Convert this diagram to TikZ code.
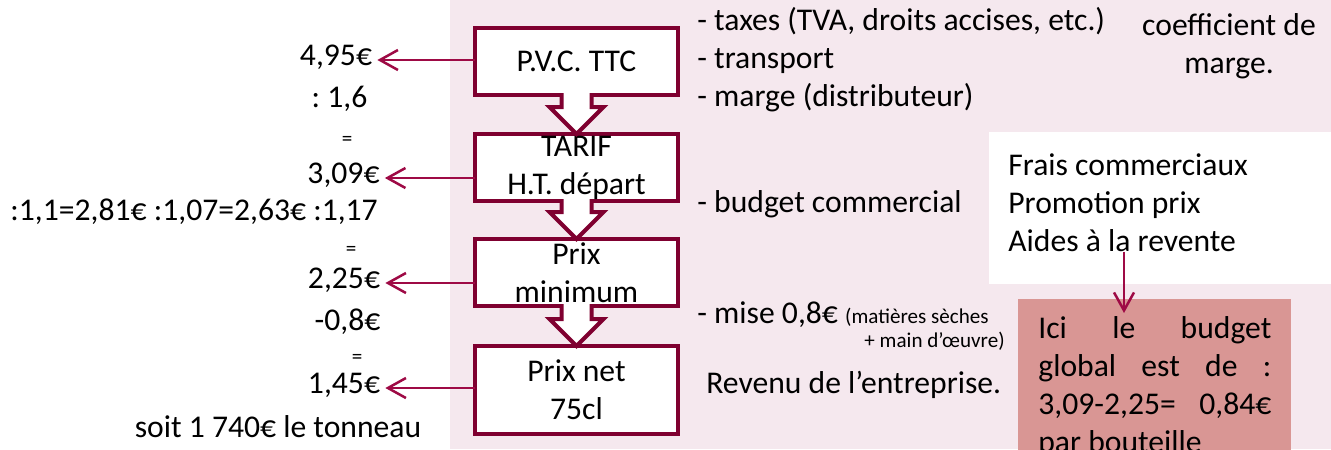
\documentclass[tikz,border=0pt]{standalone}
\usepackage{fontspec}
\setmainfont{Carlito}
\usetikzlibrary{arrows.meta,positioning}
\frenchspacing
\definecolor{bordeaux}{HTML}{7F0030}
\definecolor{fleche}{HTML}{9E0A45}
\definecolor{fondrose}{HTML}{F5E8EE}
\definecolor{rougeclair}{HTML}{D99694}
\tikzset{
block/.style = {draw=bordeaux, line width=0.8mm, fill=white, minimum height=13.4mm,
                minimum width=40.6mm, inner sep=0pt, outer sep=0pt, align=center},
hollow/.style = {draw=bordeaux, line width=0.8mm, fill=white, line join=miter},
val/.style = {inner sep=1mm, text height=0.64em, text depth=0pt},
txt/.style = {inner sep=0pt, align=left},
petit/.style = {font=\fontsize{12}{14}\selectfont},
link/.style = {->, draw=fleche, line width=0.5mm},
whitebox/.style = {fill=white, minimum width=68.4mm, minimum height=30.4mm, inner sep=0pt},
budgetbox/.style = {fill=rougeclair, text width=46.6mm, align=justify, inner xsep=4mm,
                inner ysep=3.4mm}
}

\begin{document}
\begin{tikzpicture}[x=0.2mm, y=-0.2mm, node distance=21.2mm,
    font=\fontsize{18}{21.6}\selectfont,
    >={Straight Barb[length=3.6mm,width=4mm]}]
    \useasboundingbox (0,0) rectangle (1331,449);
    \clip (0,0) rectangle (1331,449);

    % fonds
    \fill [fondrose] (450,0) rectangle (1331,449);
    \node [whitebox, anchor=north west] (blanc) at (989,132) {};

    % chaine des prix
    \node [block] (pvc) at (576.5,61.5) {P.V.C. TTC};
    \node [block, below of=pvc] (tarif) {TARIF\\H.T. départ};
    \node [block, below of=tarif, node distance=21mm] (prixmin) {Prix\\minimum};
    \node [block, below of=prixmin, node distance=23.5mm,
           minimum height=17.6mm] (prixnet) {Prix net\\75cl};

    \foreach \a/\b in {pvc/tarif, tarif/prixmin, prixmin/prixnet}
      \filldraw [hollow] ([xshift=-3mm, yshift=0.4mm]\a.south)
        -- ([xshift=-3mm, yshift=5.4mm]\b.north)
        -- ([xshift=-5.4mm, yshift=5.4mm]\b.north)
        -- (\b.north)
        -- ([xshift=5.4mm, yshift=5.4mm]\b.north)
        -- ([xshift=3mm, yshift=5.4mm]\b.north)
        -- ([xshift=3mm, yshift=0.4mm]\a.south);

    % calculs a gauche
    \node [val] (v495) at (336,60) {4,95€};
    \node [val] (div16) at (339.5,102) {: 1,6};
    \node [val, petit] (eg1) at (347,140) {=};
    \node [val] (v309) at (343.5,178) {3,09€};
    \node [val] (divs) at (194,215) {:1,1=2,81€ :1,07=2,63€ :1,17};
    \node [val, petit] (eg2) at (351,250) {=};
    \node [val] (v225) at (344,283) {2,25€};
    \node [val] (moins) at (347.5,325) {-0,8€};
    \node [val, petit] (eg3) at (357,358) {=};
    \node [val] (v145) at (344,388) {1,45€};
    \node [val] (tonneau) at (278,432) {soit 1 740€ le tonneau};

    \draw [link] (pvc.west |- v495) -- (v495);
    \draw [link] (tarif.west |- v309) -- (v309);
    \draw [link] (prixmin.west |- v225) -- (v225);
    \draw [link] (prixnet.west |- v145) -- (v145);

    % postes a droite
    \node [txt, anchor=west] (taxes) at (697,60)
      {- taxes (TVA, droits accises, etc.)\\- transport\\- marge (distributeur)};
    \node [txt, align=center] (coef) at (1229,46) {coefficient de\\marge.};
    \node [val, inner sep=0pt, anchor=west] (budcom) at (697,207) {- budget commercial};
    \node [val, inner sep=0pt, anchor=west] (mise) at (697,318)
      {- mise 0,8€ {\fontsize{12}{14}\selectfont (matières sèches}};
    \node [val, petit, inner sep=0pt, anchor=east] (main) at (1005,342) {+ main d’œuvre)};
    \node [val, inner sep=0pt, anchor=west] (revenu) at (706,388) {Revenu de l’entreprise.};

    % budget global
    \node [txt, anchor=north west] (frais) at (1008,153)
      {Frais commerciaux\\Promotion prix\\Aides à la revente};
    \node [budgetbox, anchor=north west] (budget) at (1018,299)
      {Ici le budget\linebreak global est de :\linebreak 3,09-2,25=~~0,84€\linebreak par bouteille};
    \coordinate (pointe) at (1124,313);
    \draw [link] (frais.south -| pointe) -- (pointe);
\end{tikzpicture}
\end{document}
